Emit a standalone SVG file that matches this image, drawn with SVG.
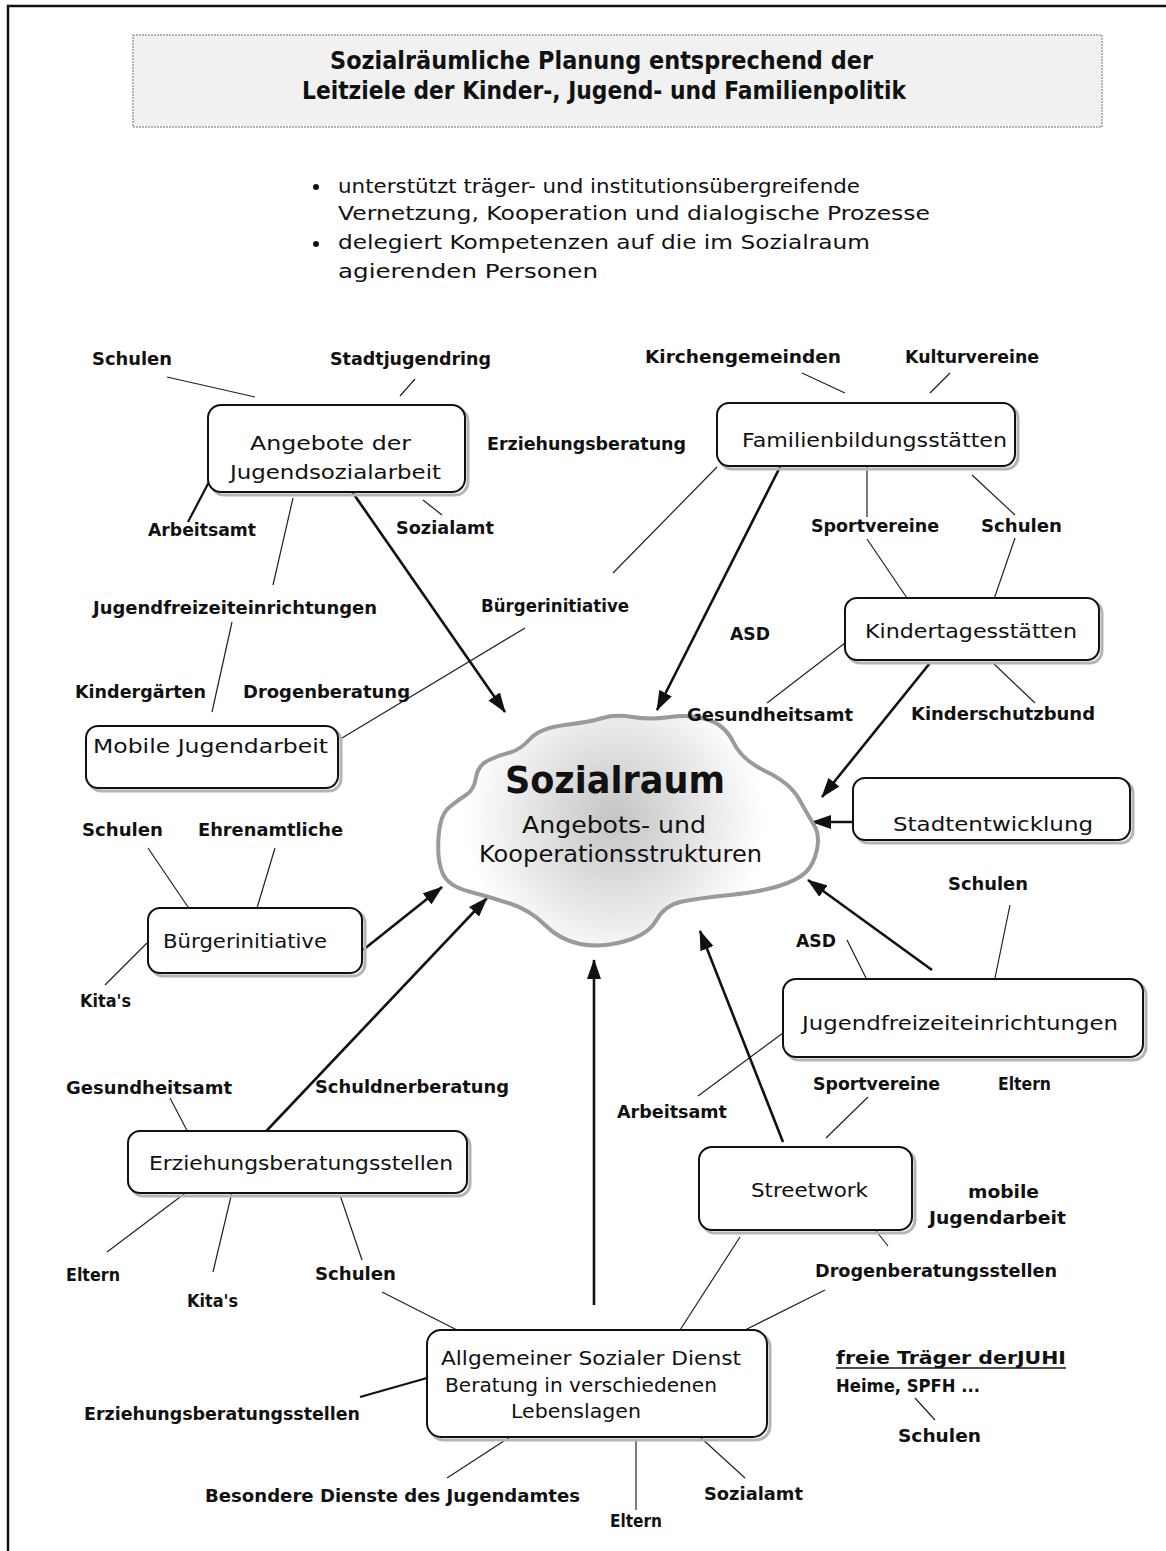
<svg xmlns="http://www.w3.org/2000/svg" width="1166" height="1551" viewBox="0 0 1166 1551">
<style>
.bg{fill:#fff}
.frame{stroke:#111;stroke-width:2.5;fill:none}
.box{fill:#fff;stroke:#111;stroke-width:2}
.shadow{fill:none;stroke:#b5b5b5;stroke-width:3}
.nt{font-family:"DejaVu Sans","Liberation Sans",sans-serif;font-size:20px;fill:#111}
.lb{font-family:"DejaVu Sans","Liberation Sans",sans-serif;font-size:18px;font-weight:bold;fill:#111}
.tt{font-family:"DejaVu Sans","Liberation Sans",sans-serif;font-size:24px;font-weight:bold;fill:#111}
.thin{stroke:#222;stroke-width:1.2;fill:none}
.med{stroke:#111;stroke-width:2.2;fill:none}
.arr{stroke:#111;stroke-width:2.6;fill:none;marker-end:url(#ah)}
</style>
<defs>
<marker id="ah" viewBox="0 0 20 14" refX="19" refY="7" markerWidth="20" markerHeight="14" markerUnits="userSpaceOnUse" orient="auto">
<path d="M0,0 L20,7 L0,14 z" fill="#111"/>
</marker>
<radialGradient id="cg" cx="615" cy="820" r="150" gradientUnits="userSpaceOnUse">
<stop offset="0" stop-color="#c4c4c4"/>
<stop offset="0.55" stop-color="#e4e4e4"/>
<stop offset="1" stop-color="#fff"/>
</radialGradient>
</defs>
<rect class="bg" x="0" y="0" width="1166" height="1551"/>
<path class="frame" d="M8,1551 L8,6 L1166,6"/>

<g id="title">
<rect x="133" y="35" width="969" height="92" fill="#f1f1f1" stroke="#a0a0a0" stroke-width="1.5" stroke-dasharray="2 1"/>
<text class="tt" x="330" y="69" textLength="543" lengthAdjust="spacingAndGlyphs">Sozialräumliche Planung entsprechend der</text>
<text class="tt" x="302" y="99" textLength="604" lengthAdjust="spacingAndGlyphs">Leitziele der Kinder-, Jugend- und Familienpolitik</text>
</g>

<g id="bullets">
<circle cx="316" cy="187" r="3" fill="#111"/>
<circle cx="316" cy="244" r="3" fill="#111"/>
<text class="nt" x="338" y="193" textLength="522" lengthAdjust="spacingAndGlyphs">unterstützt träger- und institutionsübergreifende</text>
<text class="nt" x="338" y="220" textLength="592" lengthAdjust="spacingAndGlyphs">Vernetzung, Kooperation und dialogische Prozesse</text>
<text class="nt" x="338" y="249" textLength="532" lengthAdjust="spacingAndGlyphs">delegiert Kompetenzen auf die im Sozialraum</text>
<text class="nt" x="338" y="278" textLength="260" lengthAdjust="spacingAndGlyphs">agierenden Personen</text>
</g>

<g id="connectors">
<line class="thin" x1="167" y1="377" x2="255" y2="397"/>
<line class="thin" x1="400" y1="396" x2="415" y2="379"/>
<line class="med" x1="210" y1="480" x2="188" y2="522"/>
<line class="thin" x1="423" y1="500" x2="442" y2="515"/>
<line class="thin" x1="293" y1="498" x2="273" y2="585"/>
<line class="thin" x1="232" y1="622" x2="212" y2="712"/>
<line class="thin" x1="342" y1="738" x2="525" y2="628"/>
<line class="thin" x1="717" y1="467" x2="613" y2="573"/>
<line class="thin" x1="802" y1="373" x2="845" y2="393"/>
<line class="thin" x1="950" y1="373" x2="930" y2="393"/>
<line class="thin" x1="867" y1="456" x2="867" y2="517"/>
<line class="thin" x1="972" y1="475" x2="1015" y2="515"/>
<line class="thin" x1="867" y1="539" x2="907" y2="598"/>
<line class="thin" x1="1015" y1="538" x2="993" y2="602"/>
<line class="thin" x1="845" y1="643" x2="767" y2="703"/>
<line class="thin" x1="993" y1="663" x2="1035" y2="703"/>
<line class="thin" x1="148" y1="848" x2="190" y2="910"/>
<line class="thin" x1="275" y1="848" x2="257" y2="908"/>
<line class="thin" x1="147" y1="943" x2="105" y2="985"/>
<line class="thin" x1="170" y1="1098" x2="193" y2="1142"/>
<line class="thin" x1="192" y1="1188" x2="107" y2="1252"/>
<line class="thin" x1="233" y1="1188" x2="213" y2="1272"/>
<line class="thin" x1="340" y1="1195" x2="362" y2="1260"/>
<line class="thin" x1="382" y1="1292" x2="457" y2="1330"/>
<line class="thin" x1="847" y1="940" x2="867" y2="980"/>
<line class="thin" x1="1010" y1="905" x2="995" y2="978"/>
<line class="thin" x1="698" y1="1096" x2="783" y2="1033"/>
<line class="thin" x1="868" y1="1097" x2="826" y2="1138"/>
<line class="thin" x1="873" y1="1227" x2="888" y2="1246"/>
<line class="thin" x1="740" y1="1237" x2="680" y2="1330"/>
<line class="thin" x1="745" y1="1330" x2="825" y2="1290"/>
<line class="med" x1="360" y1="1397" x2="427" y2="1378"/>
<line class="thin" x1="447" y1="1478" x2="510" y2="1437"/>
<line class="thin" x1="636" y1="1440" x2="636" y2="1510"/>
<line class="thin" x1="700" y1="1437" x2="745" y2="1478"/>
<line class="thin" x1="915" y1="1398" x2="935" y2="1420"/>
<line class="arr" x1="337" y1="470" x2="505" y2="712"/>
<line class="arr" x1="782" y1="463" x2="657" y2="710"/>
<line class="arr" x1="930" y1="663" x2="822" y2="797"/>
<line class="arr" x1="853" y1="822" x2="812" y2="822"/>
<line class="arr" x1="932" y1="970" x2="808" y2="880"/>
<line class="arr" x1="783" y1="1142" x2="700" y2="931"/>
<line class="arr" x1="594" y1="1305" x2="594" y2="960"/>
<line class="arr" x1="255" y1="1143" x2="487" y2="898"/>
<line class="arr" x1="363" y1="950" x2="442" y2="887"/>
</g>

<g id="sozialraum">
<path d="M 530,739 Q 540,728 565,725 Q 590,722 602.5,718 Q 615,714 632.5,717 Q 650,720 670,717 Q 690,714 707.5,719.5 Q 725,725 733.5,742.5 Q 742,760 766,771.5 Q 790,783 799,799 Q 808,815 814,825 Q 820,835 817,849.5 Q 814,864 806,872 Q 798,880 779,886 Q 760,892 730,895 Q 700,898 682.5,901.5 Q 665,905 656.5,920 Q 648,935 624,941.5 Q 600,948 580,944 Q 560,940 545,925 Q 530,910 510,903.5 Q 490,897 469,891.5 Q 448,886 442.5,873 Q 437,860 438.5,837.5 Q 440,815 449,807.5 Q 458,800 466,795 Q 474,790 476,777.5 Q 478,765 489,760 Q 500,755 510,752.5 Q 520,750 530,739 Z" fill="url(#cg)" stroke="#9a9a9a" stroke-width="4"/>
<text x="505" y="793" font-family="DejaVu Sans, Liberation Sans, sans-serif" font-size="38" font-weight="bold" fill="#111" textLength="220" lengthAdjust="spacingAndGlyphs">Sozialraum</text>
<text class="nt" x="522" y="833" style="font-size:23px" textLength="184" lengthAdjust="spacingAndGlyphs">Angebots- und</text>
<text class="nt" x="479" y="862" style="font-size:23px" textLength="283" lengthAdjust="spacingAndGlyphs">Kooperationsstrukturen</text>
</g>

<g id="n-jugendsozialarbeit">
<rect class="shadow" x="211" y="408" width="257" height="87" rx="13"/>
<rect class="box" x="208" y="405" width="257" height="87" rx="13"/>
<text class="nt" x="250" y="450" textLength="161" lengthAdjust="spacingAndGlyphs">Angebote der</text>
<text class="nt" x="230" y="479" textLength="211" lengthAdjust="spacingAndGlyphs">Jugendsozialarbeit</text>
</g>
<g id="n-familienbildung">
<rect class="shadow" x="720" y="406" width="298" height="63" rx="12"/>
<rect class="box" x="717" y="403" width="298" height="63" rx="12"/>
<text class="nt" x="742" y="447" textLength="265" lengthAdjust="spacingAndGlyphs">Familienbildungsstätten</text>
</g>
<g id="n-kita">
<rect class="shadow" x="848" y="601" width="254" height="62" rx="12"/>
<rect class="box" x="845" y="598" width="254" height="62" rx="12"/>
<text class="nt" x="865" y="638" textLength="212" lengthAdjust="spacingAndGlyphs">Kindertagesstätten</text>
</g>
<g id="n-mobile">
<rect class="shadow" x="89" y="729" width="252" height="62" rx="12"/>
<rect class="box" x="86" y="726" width="252" height="62" rx="12"/>
<text class="nt" x="93" y="753" textLength="235" lengthAdjust="spacingAndGlyphs">Mobile Jugendarbeit</text>
</g>
<g id="n-stadtentwicklung">
<rect class="shadow" x="856" y="781" width="277" height="62" rx="12"/>
<rect class="box" x="853" y="778" width="277" height="62" rx="12"/>
<text class="nt" x="893" y="831" textLength="200" lengthAdjust="spacingAndGlyphs">Stadtentwicklung</text>
</g>
<g id="n-buergerinitiative">
<rect class="shadow" x="151" y="911" width="214" height="65" rx="12"/>
<rect class="box" x="148" y="908" width="214" height="65" rx="12"/>
<text class="nt" x="163" y="948" textLength="164" lengthAdjust="spacingAndGlyphs">Bürgerinitiative</text>
</g>
<g id="n-jugendfreizeit">
<rect class="shadow" x="786" y="982" width="360" height="78" rx="13"/>
<rect class="box" x="783" y="979" width="360" height="78" rx="13"/>
<text class="nt" x="802" y="1030" textLength="316" lengthAdjust="spacingAndGlyphs">Jugendfreizeiteinrichtungen</text>
</g>
<g id="n-streetwork">
<rect class="shadow" x="702" y="1150" width="213" height="83" rx="13"/>
<rect class="box" x="699" y="1147" width="213" height="83" rx="13"/>
<text class="nt" x="751" y="1197" textLength="117" lengthAdjust="spacingAndGlyphs">Streetwork</text>
</g>
<g id="n-erziehungsberatung">
<rect class="shadow" x="131" y="1134" width="339" height="62" rx="12"/>
<rect class="box" x="128" y="1131" width="339" height="62" rx="12"/>
<text class="nt" x="149" y="1170" textLength="304" lengthAdjust="spacingAndGlyphs">Erziehungsberatungsstellen</text>
</g>
<g id="n-asd">
<rect class="shadow" x="430" y="1333" width="340" height="107" rx="14"/>
<rect class="box" x="427" y="1330" width="340" height="107" rx="14"/>
<text class="nt" x="441" y="1365" textLength="300" lengthAdjust="spacingAndGlyphs">Allgemeiner Sozialer Dienst</text>
<text class="nt" x="445" y="1392" textLength="272" lengthAdjust="spacingAndGlyphs">Beratung in verschiedenen</text>
<text class="nt" x="511" y="1418" textLength="130" lengthAdjust="spacingAndGlyphs">Lebenslagen</text>
</g>

<g id="labels">
<text class="lb" x="92" y="365" textLength="80" lengthAdjust="spacingAndGlyphs">Schulen</text>
<text class="lb" x="330" y="365" textLength="161" lengthAdjust="spacingAndGlyphs">Stadtjugendring</text>
<text class="lb" x="645" y="363" textLength="196" lengthAdjust="spacingAndGlyphs">Kirchengemeinden</text>
<text class="lb" x="905" y="363" textLength="134" lengthAdjust="spacingAndGlyphs">Kulturvereine</text>
<text class="lb" x="487" y="450" textLength="199" lengthAdjust="spacingAndGlyphs">Erziehungsberatung</text>
<text class="lb" x="148" y="536" textLength="108" lengthAdjust="spacingAndGlyphs">Arbeitsamt</text>
<text class="lb" x="396" y="534" textLength="98" lengthAdjust="spacingAndGlyphs">Sozialamt</text>
<text class="lb" x="811" y="532" textLength="128" lengthAdjust="spacingAndGlyphs">Sportvereine</text>
<text class="lb" x="981" y="532" textLength="81" lengthAdjust="spacingAndGlyphs">Schulen</text>
<text class="lb" x="93" y="614" textLength="284" lengthAdjust="spacingAndGlyphs">Jugendfreizeiteinrichtungen</text>
<text class="lb" x="481" y="612" textLength="148" lengthAdjust="spacingAndGlyphs">Bürgerinitiative</text>
<text class="lb" x="730" y="640" textLength="40" lengthAdjust="spacingAndGlyphs">ASD</text>
<text class="lb" x="75" y="698" textLength="131" lengthAdjust="spacingAndGlyphs">Kindergärten</text>
<text class="lb" x="243" y="698" textLength="167" lengthAdjust="spacingAndGlyphs">Drogenberatung</text>
<text class="lb" x="687" y="721" textLength="166" lengthAdjust="spacingAndGlyphs">Gesundheitsamt</text>
<text class="lb" x="911" y="720" textLength="184" lengthAdjust="spacingAndGlyphs">Kinderschutzbund</text>
<text class="lb" x="82" y="836" textLength="81" lengthAdjust="spacingAndGlyphs">Schulen</text>
<text class="lb" x="198" y="836" textLength="145" lengthAdjust="spacingAndGlyphs">Ehrenamtliche</text>
<text class="lb" x="948" y="890" textLength="80" lengthAdjust="spacingAndGlyphs">Schulen</text>
<text class="lb" x="796" y="947" textLength="40" lengthAdjust="spacingAndGlyphs">ASD</text>
<text class="lb" x="80" y="1007" textLength="51" lengthAdjust="spacingAndGlyphs">Kita's</text>
<text class="lb" x="66" y="1094" textLength="166" lengthAdjust="spacingAndGlyphs">Gesundheitsamt</text>
<text class="lb" x="315" y="1093" textLength="194" lengthAdjust="spacingAndGlyphs">Schuldnerberatung</text>
<text class="lb" x="617" y="1118" textLength="110" lengthAdjust="spacingAndGlyphs">Arbeitsamt</text>
<text class="lb" x="813" y="1090" textLength="127" lengthAdjust="spacingAndGlyphs">Sportvereine</text>
<text class="lb" x="998" y="1090" textLength="53" lengthAdjust="spacingAndGlyphs">Eltern</text>
<text class="lb" x="968" y="1198" textLength="71" lengthAdjust="spacingAndGlyphs">mobile</text>
<text class="lb" x="929" y="1224" textLength="137" lengthAdjust="spacingAndGlyphs">Jugendarbeit</text>
<text class="lb" x="66" y="1281" textLength="54" lengthAdjust="spacingAndGlyphs">Eltern</text>
<text class="lb" x="187" y="1307" textLength="51" lengthAdjust="spacingAndGlyphs">Kita's</text>
<text class="lb" x="315" y="1280" textLength="81" lengthAdjust="spacingAndGlyphs">Schulen</text>
<text class="lb" x="815" y="1277" textLength="242" lengthAdjust="spacingAndGlyphs">Drogenberatungsstellen</text>
<text class="lb" x="836" y="1364" textLength="230" lengthAdjust="spacingAndGlyphs">freie Träger derJUHI</text>
<line x1="836" y1="1368" x2="1066" y2="1368" stroke="#111" stroke-width="1.5"/>
<text class="lb" x="836" y="1392" textLength="144" lengthAdjust="spacingAndGlyphs">Heime, SPFH ...</text>
<text class="lb" x="898" y="1442" textLength="83" lengthAdjust="spacingAndGlyphs">Schulen</text>
<text class="lb" x="84" y="1420" textLength="276" lengthAdjust="spacingAndGlyphs">Erziehungsberatungsstellen</text>
<text class="lb" x="205" y="1502" textLength="375" lengthAdjust="spacingAndGlyphs">Besondere Dienste des Jugendamtes</text>
<text class="lb" x="704" y="1500" textLength="99" lengthAdjust="spacingAndGlyphs">Sozialamt</text>
<text class="lb" x="610" y="1527" textLength="52" lengthAdjust="spacingAndGlyphs">Eltern</text>
</g>
</svg>
